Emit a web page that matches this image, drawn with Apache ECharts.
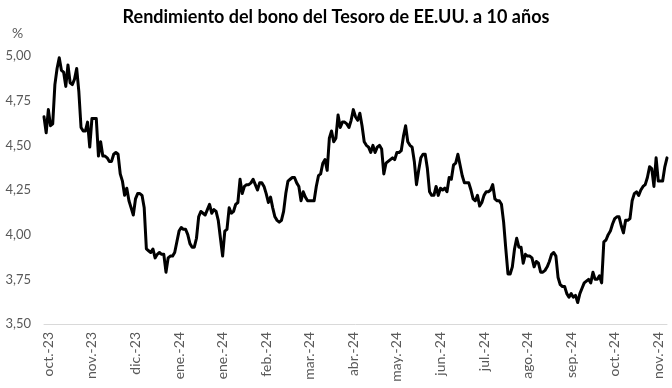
<!DOCTYPE html>
<html>
<head>
<meta charset="utf-8">
<script src="https://cdn.jsdelivr.net/npm/echarts@6/dist/echarts.min.js"></script>
<style>
html,body{margin:0;padding:0;background:#fff;}
#chart{width:672px;height:388px;}
</style>
</head>
<body>
<div id="chart"></div>
<script>
// Tick labels shown along the x axis (one every LABEL_STEP observations, starting at LABEL_START)
const tickLabels = ["oct.-23","nov.-23","dic.-23","ene.-24","ene.-24","feb.-24","mar.-24","abr.-24","may.-24","jun.-24","jul.-24","ago.-24","sep.-24","oct.-24","nov.-24"];
const LABEL_START = 2;
const LABEL_STEP = 20;

const yields = [
4.66,4.57,4.70,4.61,4.62,4.84,4.93,4.99,4.92,4.91,
4.83,4.95,4.85,4.84,4.87,4.93,4.80,4.60,4.58,4.58,
4.63,4.49,4.65,4.65,4.65,4.44,4.52,4.44,4.44,4.43,
4.41,4.41,4.45,4.46,4.45,4.34,4.30,4.22,4.26,4.19,
4.15,4.11,4.20,4.23,4.23,4.22,4.15,3.92,3.91,3.90,
3.92,3.87,3.89,3.90,3.89,3.89,3.79,3.87,3.88,3.88,
3.90,3.96,4.02,4.04,4.03,4.03,4.00,3.95,3.93,3.93,
3.98,4.10,4.13,4.12,4.11,4.14,4.17,4.12,4.14,4.13,
4.08,3.98,3.88,4.02,4.03,4.15,4.12,4.13,4.17,4.18,
4.31,4.23,4.27,4.28,4.28,4.29,4.31,4.28,4.25,4.29,
4.29,4.27,4.23,4.18,4.21,4.15,4.10,4.08,4.07,4.08,
4.13,4.23,4.30,4.31,4.32,4.32,4.29,4.27,4.19,4.24,
4.21,4.19,4.19,4.19,4.19,4.27,4.33,4.34,4.40,4.42,
4.36,4.54,4.58,4.52,4.54,4.67,4.60,4.63,4.63,4.62,
4.60,4.64,4.70,4.66,4.64,4.68,4.61,4.52,4.50,4.49,
4.46,4.50,4.46,4.49,4.50,4.48,4.34,4.40,4.41,4.42,
4.43,4.42,4.46,4.46,4.47,4.55,4.61,4.52,4.50,4.49,
4.41,4.28,4.36,4.43,4.45,4.45,4.37,4.24,4.22,4.22,
4.27,4.22,4.26,4.25,4.26,4.24,4.32,4.31,4.39,4.40,
4.45,4.39,4.33,4.29,4.29,4.29,4.25,4.20,4.19,4.22,
4.16,4.18,4.22,4.24,4.24,4.25,4.28,4.20,4.19,4.19,
4.17,4.07,3.92,3.78,3.78,3.82,3.92,3.98,3.93,3.93,
3.84,3.89,3.88,3.88,3.87,3.82,3.85,3.84,3.79,3.79,
3.80,3.82,3.85,3.89,3.90,3.88,3.76,3.72,3.71,3.71,
3.67,3.65,3.67,3.65,3.66,3.62,3.67,3.70,3.73,3.74,
3.75,3.73,3.79,3.75,3.75,3.77,3.73,3.96,3.97,4.00,
4.02,4.06,4.09,4.10,4.10,4.05,4.01,4.08,4.08,4.09,
4.19,4.23,4.24,4.22,4.25,4.27,4.28,4.32,4.38,4.37,
4.27,4.43,4.30,4.30,4.30,4.38,4.43
];

const categories = yields.map(function (_, i) {
  const k = (i - LABEL_START) / LABEL_STEP;
  return (i >= LABEL_START && Number.isInteger(k) && k < tickLabels.length) ? tickLabels[k] : "";
});

const FONT = "Lato, 'Open Sans', sans-serif";
const chart = echarts.init(document.getElementById('chart'), null, {renderer: 'canvas'});
chart.setOption({
  animation: false,
  backgroundColor: '#ffffff',
  title: {
    text: 'Rendimiento del bono del Tesoro de EE.UU. a 10 años',
    left: 'center',
    top: 3,
    textStyle: {fontFamily: FONT, fontSize: 18, fontWeight: 'bold', color: '#000000'}
  },
  graphic: [{
    type: 'text',
    left: 12,
    top: 26,
    style: {text: '%', font: '14px ' + FONT, fill: '#595959'}
  }],
  grid: {left: 44, right: 5, top: 56, bottom: 64, containLabel: false},
  xAxis: {
    type: 'category',
    data: categories,
    boundaryGap: false,
    axisLine: {show: true, lineStyle: {color: '#d9d9d9', width: 1}},
    axisTick: {show: false},
    splitLine: {show: false},
    axisLabel: {
      rotate: 90,
      margin: 8,
      interval: function (index) {
        return index >= LABEL_START && (index - LABEL_START) % LABEL_STEP === 0;
      },
      fontFamily: FONT,
      fontSize: 14,
      color: '#595959'
    }
  },
  yAxis: {
    type: 'value',
    min: 3.5,
    max: 5.0,
    interval: 0.25,
    axisLine: {show: false},
    axisTick: {show: false},
    splitLine: {show: false},
    axisLabel: {
      margin: 13,
      fontFamily: FONT,
      fontSize: 13,
      color: '#595959',
      formatter: function (v) { return v.toFixed(2).replace('.', ','); }
    }
  },
  series: [{
    type: 'line',
    data: yields,
    showSymbol: false,
    symbol: 'none',
    lineStyle: {color: '#000000', width: 3, join: 'round', cap: 'round'},
    z: 3
  }]
});
</script>
</body>
</html>
